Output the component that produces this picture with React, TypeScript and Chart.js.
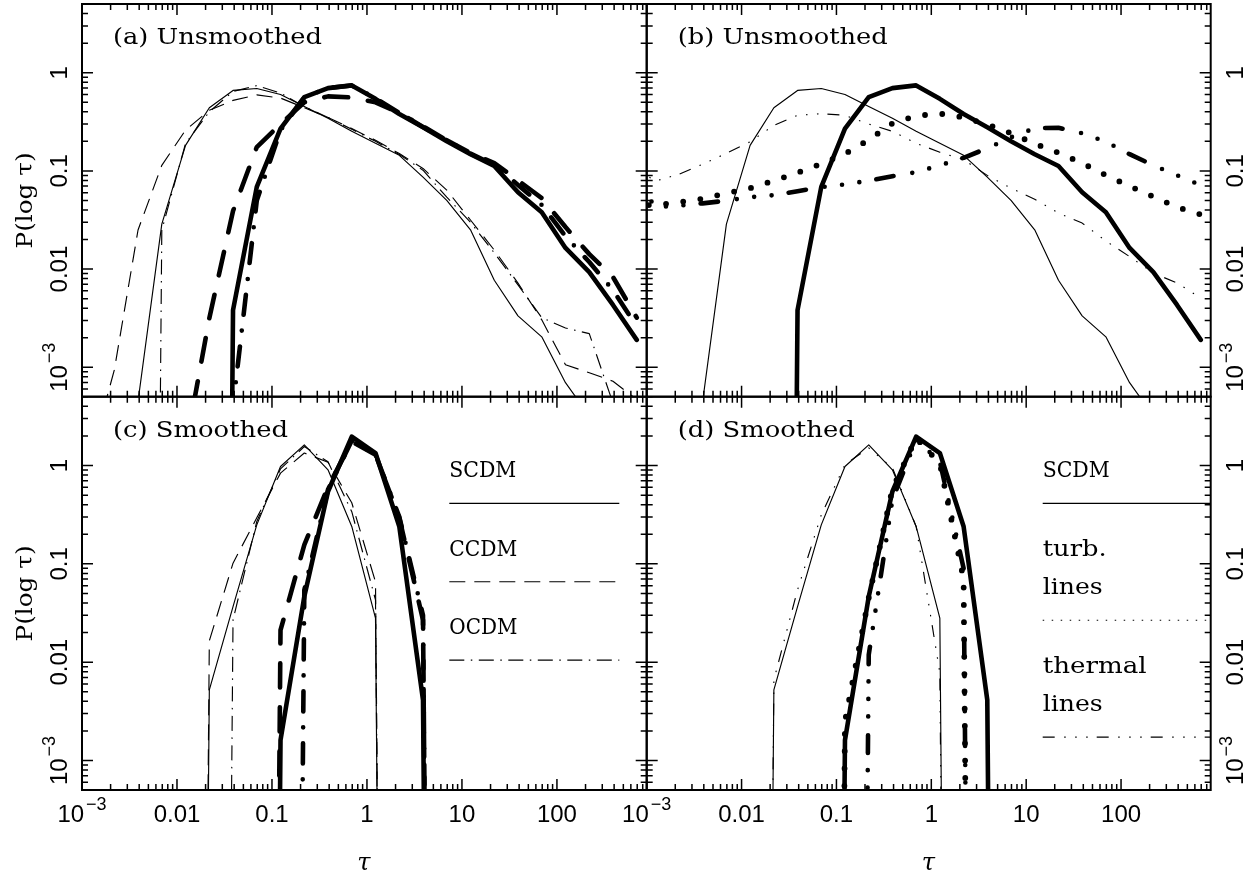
import React, { useEffect, useRef } from 'react';
import { Chart, registerables } from 'chart.js';

Chart.register(...registerables);

// ---------- data ----------
const EMPTY = 1e-30; // empty bin: drawn far below the axis

// bin centres in tau (0.25 dex bins)
const tauBins = [0.000692, 0.00123, 0.00219, 0.00389, 0.00692, 0.0123, 0.0219, 0.0389, 0.0692, 0.123, 0.219, 0.389, 0.692, 1.23, 2.19, 3.89, 6.92, 12.3, 21.9, 38.9, 69.2, 123, 219, 389, 692];

// (a)/(b) unsmoothed
const unsmoothedScdmThin = [null, null, null, 4.5e-4, 0.0287, 0.182, 0.44, 0.66, 0.69, 0.6, 0.454, 0.343, 0.253, 0.191, 0.144, 0.0863, 0.05, 0.0251, 0.0077, 0.00334, 0.00204, 6.96e-4, 3.2e-4, null, null];
const unsmoothedCcdmThin = [null, 1.2e-4, 9.4e-4, 0.025, 0.114, 0.26, 0.414, 0.523, 0.595, 0.552, 0.44, 0.35, 0.27, 0.205, 0.15, 0.106, 0.0637, 0.0316, 0.0156, 0.0072, 0.00304, 0.00106, 8.8e-4, 7.2e-4, 4.7e-4];
const unsmoothedOcdmThin = [null, null, null, EMPTY, 0.025, 0.19, 0.4, 0.645, 0.74, 0.62, 0.45, 0.35, 0.265, 0.2, 0.147, 0.1016, 0.054, 0.03, 0.0146, 0.0069, 0.0032, 0.00251, 0.0022, 4.3e-4, null];
const unsmoothedScdmThick = [null, null, null, null, null, null, EMPTY, 0.00382, 0.0688, 0.27, 0.565, 0.697, 0.743, 0.542, 0.38, 0.278, 0.2, 0.148, 0.112, 0.0607, 0.038, 0.0164, 0.0093, 0.00431, 0.0019];
const unsmoothedCcdmThick = [null, null, null, null, null, 1.5e-4, 0.00316, 0.039, 0.175, 0.3, 0.5, 0.574, 0.56, 0.5, 0.39, 0.28, 0.205, 0.152, 0.12, 0.08, 0.0528, 0.0268, 0.0142, 0.0083, 0.0032];
const unsmoothedOcdmThick = [null, null, null, null, null, null, EMPTY, 4e-4, 0.05, 0.26, 0.56, 0.7, 0.74, 0.55, 0.39, 0.285, 0.205, 0.15, 0.115, 0.072, 0.045, 0.0216, 0.0118, 0.0061, 0.0026];
const unsmoothedThermalThin = [0.114, 0.0786, 0.0925, 0.117, 0.151, 0.198, 0.291, 0.368, 0.383, 0.368, 0.3, 0.253, 0.191, 0.155, 0.13, 0.09, 0.0667, 0.0515, 0.0372, 0.0294, 0.0193, 0.0134, 0.0091, 0.00722, 0.00508];
const unsmoothedTurbThick = [0.045, 0.0448, 0.048, 0.052, 0.0593, 0.0667, 0.0795, 0.0959, 0.118, 0.149, 0.207, 0.305, 0.364, 0.383, 0.351, 0.298, 0.242, 0.189, 0.153, 0.12, 0.0904, 0.07, 0.0547, 0.0428, 0.0359];
const unsmoothedThermalThick = [0.1, 0.0428, 0.0443, 0.0467, 0.0498, 0.054, 0.0566, 0.0622, 0.0683, 0.0728, 0.0795, 0.0883, 0.097, 0.114, 0.136, 0.17, 0.22, 0.272, 0.275, 0.242, 0.198, 0.148, 0.114, 0.0904, 0.0716];

// (c)/(d) smoothed
const smoothedScdmThin = [null, null, null, null, null, EMPTY, 0.00523, 0.0368, 0.249, 0.977, 1.62, 0.904, 0.24, 0.028, EMPTY, null, null, null, null, null, null, null, null, null, null];
const smoothedCcdmThin = [null, null, null, null, null, EMPTY, 0.0165, 0.1016, 0.294, 0.837, 1.34, 1.08, 0.418, 0.0656, EMPTY, null, null, null, null, null, null, null, null, null, null];
const smoothedOcdmThin = [null, null, null, null, null, null, EMPTY, 0.0269, 0.27, 0.925, 1.56, 1.09, 0.339, 0.043, EMPTY, null, null, null, null, null, null, null, null, null, null];
const smoothedScdmThick = [null, null, null, null, null, null, null, null, EMPTY, 0.00161, 0.0465, 0.544, 1.97, 1.34, 0.24, 0.00414, EMPTY, null, null, null, null, null, null, null, null];
const smoothedCcdmThick = [null, null, null, null, null, null, null, null, EMPTY, 0.0212, 0.156, 0.607, 1.75, 1.29, 0.294, 0.0268, EMPTY, null, null, null, null, null, null, null, null];
const smoothedOcdmThick = [null, null, null, null, null, null, null, null, null, EMPTY, 0.0542, 0.57, 1.8, 1.29, 0.3, 0.03, EMPTY, null, null, null, null, null, null, null, null];
const smoothedThermalThin = [null, null, null, null, null, EMPTY, 0.0066, 0.0544, 0.315, 1.02, 1.51, 0.948, 0.24, 0.0078, EMPTY, null, null, null, null, null, null, null, null, null, null];
const smoothedTurbThick = [null, null, null, null, null, null, null, null, EMPTY, 0.0025, 0.045, 0.58, 1.9, 1.05, 0.07, EMPTY, null, null, null, null, null, null, null, null, null];
const smoothedThermalThick = [null, null, null, null, null, null, null, null, null, EMPTY, 0.0119, 0.448, 1.83, 1.1, 0.09, EMPTY, null, null, null, null, null, null, null, null, null];

// axes
const X_MIN = 0.001;
const X_MAX = 881;
const Y_MIN = 5.012e-4;
const Y_MAX = 5.012;
const xTickValues = [0.001, 0.01, 0.1, 1, 10, 100];
const xTickLabels = ['10^-3', '0.01', '0.1', '1', '10', '100'];
const yTickValues = [0.001, 0.01, 0.1, 1];
const yTickLabels = ['10^-3', '0.01', '0.1', '1'];

// ---------- styles ----------
const W = 1254;
const H = 878;
const THIN = 1.15;
const THICK = 4.6;
const lineStyles: Record<string, { width: number; dash: number[]; cap: CanvasLineCap }> = {
  solidThin: { width: THIN, dash: [], cap: 'butt' },
  dashedThin: { width: THIN, dash: [16, 9], cap: 'butt' },
  dashDotThin: { width: THIN, dash: [15, 6.5, 1.5, 6.5], cap: 'butt' },
  dash3DotThin: { width: THIN, dash: [12, 9.5, 1.5, 9.5, 1.5, 9.5, 1.5, 9], cap: 'butt' },
  dottedThin: { width: THIN, dash: [1.5, 7.5], cap: 'butt' },
  solidThick: { width: THICK, dash: [], cap: 'round' },
  dashedThick: { width: THICK, dash: [24, 20], cap: 'round' },
  dashDotThick: { width: THICK, dash: [20, 16, 0, 16], cap: 'round' },
  dottedThick: { width: 5.8, dash: [0, 17.3], cap: 'round' },
  dash3DotThick: { width: THICK, dash: [17.5, 19, 0, 17.5, 0, 17.5, 0, 17.25], cap: 'round' },
};

const NUM_FONT = '24px "Liberation Sans", Arial, sans-serif';
const SUP_FONT = '18px "Liberation Sans", Arial, sans-serif';
const SERIF_FONT = '23px "DejaVu Serif", serif';
const TAU_FONT = 'italic 24px "DejaVu Serif", serif';

type Series = [Array<number | null>, string];
type LegendEntry = { lines: string[]; widths: number[]; style: string };
type PanelCfg = {
  key: string;
  rect: { left: number; top: number; right: number; bottom: number };
  title: string;
  titleWidth: number;
  yLabels: 'left' | 'right';
  xLabels: boolean;
  series: Series[];
  legend: null | { x0: number; x1: number; entries: LegendEntry[] };
};

const panels: PanelCfg[] = [
  {
    key: 'a',
    rect: { left: 82, top: 4, right: 646.7, bottom: 396.7 },
    title: '(a) Unsmoothed',
    titleWidth: 209,
    yLabels: 'left',
    xLabels: false,
    series: [
      [unsmoothedScdmThin, 'solidThin'],
      [unsmoothedCcdmThin, 'dashedThin'],
      [unsmoothedOcdmThin, 'dashDotThin'],
      [unsmoothedScdmThick, 'solidThick'],
      [unsmoothedCcdmThick, 'dashedThick'],
      [unsmoothedOcdmThick, 'dashDotThick'],
    ],
    legend: null,
  },
  {
    key: 'b',
    rect: { left: 646.7, top: 4, right: 1210.7, bottom: 396.7 },
    title: '(b) Unsmoothed',
    titleWidth: 210,
    yLabels: 'right',
    xLabels: false,
    series: [
      [unsmoothedScdmThin, 'solidThin'],
      [unsmoothedThermalThin, 'dash3DotThin'],
      [unsmoothedScdmThick, 'solidThick'],
      [unsmoothedTurbThick, 'dottedThick'],
      [unsmoothedThermalThick, 'dash3DotThick'],
    ],
    legend: null,
  },
  {
    key: 'c',
    rect: { left: 82, top: 396.7, right: 646.7, bottom: 790 },
    title: '(c) Smoothed',
    titleWidth: 175,
    yLabels: 'left',
    xLabels: true,
    series: [
      [smoothedScdmThin, 'solidThin'],
      [smoothedCcdmThin, 'dashedThin'],
      [smoothedOcdmThin, 'dashDotThin'],
      [smoothedScdmThick, 'solidThick'],
      [smoothedCcdmThick, 'dashedThick'],
      [smoothedOcdmThick, 'dashDotThick'],
    ],
    legend: {
      x0: 367.3,
      x1: 537.3,
      entries: [
        { lines: ['SCDM'], widths: [67], style: 'solidThin' },
        { lines: ['CCDM'], widths: [68], style: 'dashedThin' },
        { lines: ['OCDM'], widths: [68], style: 'dashDotThin' },
      ],
    },
  },
  {
    key: 'd',
    rect: { left: 646.7, top: 396.7, right: 1210.7, bottom: 790 },
    title: '(d) Smoothed',
    titleWidth: 177,
    yLabels: 'right',
    xLabels: true,
    series: [
      [smoothedScdmThin, 'solidThin'],
      [smoothedThermalThin, 'dash3DotThin'],
      [smoothedScdmThick, 'solidThick'],
      [smoothedTurbThick, 'dottedThick'],
      [smoothedThermalThick, 'dash3DotThick'],
    ],
    legend: {
      x0: 396,
      x1: 564,
      entries: [
        { lines: ['SCDM'], widths: [67], style: 'solidThin' },
        { lines: ['turb.', 'lines'], widths: [64, 60], style: 'dottedThin' },
        { lines: ['thermal', 'lines'], widths: [104, 60], style: 'dash3DotThin' },
      ],
    },
  },
];

// ---------- drawing helpers ----------
function fitText(ctx: CanvasRenderingContext2D, text: string, x: number, y: number, width: number, font: string) {
  ctx.font = font;
  const w = ctx.measureText(text).width || 1;
  ctx.save();
  ctx.translate(x, y);
  ctx.scale(width / w, 1);
  ctx.textAlign = 'left';
  ctx.textBaseline = 'alphabetic';
  ctx.fillText(text, 0, 0);
  ctx.restore();
}

function drawNumber(ctx: CanvasRenderingContext2D, label: string, cx: number, baseY: number) {
  ctx.textBaseline = 'alphabetic';
  const m = label.match(/^(.*)\^(.*)$/);
  if (!m) {
    ctx.font = NUM_FONT;
    ctx.textAlign = 'center';
    ctx.fillText(label, cx, baseY);
    return;
  }
  const base = m[1];
  const exp = m[2].replace('-', '\u2212');
  ctx.font = NUM_FONT;
  const wb = ctx.measureText(base).width;
  ctx.font = SUP_FONT;
  const we = ctx.measureText(exp).width;
  const x0 = cx - (wb + 2 + we) / 2;
  ctx.textAlign = 'left';
  ctx.font = NUM_FONT;
  ctx.fillText(base, x0, baseY);
  ctx.font = SUP_FONT;
  ctx.fillText(exp, x0 + wb + 2, baseY - 11.5);
}

function strokeStyled(ctx: CanvasRenderingContext2D, styleKey: string, x0: number, x1: number, y: number) {
  const s = lineStyles[styleKey];
  ctx.save();
  ctx.lineWidth = s.width;
  ctx.lineCap = s.cap;
  ctx.setLineDash(s.dash);
  ctx.beginPath();
  ctx.moveTo(x0, y);
  ctx.lineTo(x1, y);
  ctx.stroke();
  ctx.restore();
}

function makeDecorPlugin(cfg: PanelCfg) {
  return {
    id: 'decor_' + cfg.key,
    afterDatasetsDraw(chart: any) {
      const { ctx, chartArea: a } = chart;
      const xs = chart.scales.x;
      const ys = chart.scales.y;
      ctx.save();
      ctx.fillStyle = '#000';
      ctx.strokeStyle = '#000';

      // inward ticks on all four sides
      ctx.lineWidth = 1.5;
      ctx.setLineDash([]);
      ctx.beginPath();
      for (let e = -4; e <= 3; e++) {
        for (let k = 1; k <= 9; k++) {
          const v = k * Math.pow(10, e);
          const len = k === 1 ? 11 : 6;
          if (v >= X_MIN * 0.999 && v <= X_MAX) {
            const px = xs.getPixelForValue(v);
            ctx.moveTo(px, a.bottom);
            ctx.lineTo(px, a.bottom - len);
            ctx.moveTo(px, a.top);
            ctx.lineTo(px, a.top + len);
          }
          if (v >= Y_MIN && v <= Y_MAX) {
            const py = ys.getPixelForValue(v);
            ctx.moveTo(a.left, py);
            ctx.lineTo(a.left + len, py);
            ctx.moveTo(a.right, py);
            ctx.lineTo(a.right - len, py);
          }
        }
      }
      ctx.stroke();

      // frame
      ctx.lineWidth = 2;
      ctx.strokeRect(a.left, a.top, a.right - a.left, a.bottom - a.top);

      // y tick labels (rotated)
      yTickValues.forEach((v, i) => {
        const py = ys.getPixelForValue(v);
        const bx = cfg.yLabels === 'left' ? a.left - 15.3 : a.right + 32.6;
        ctx.save();
        ctx.translate(bx, py);
        ctx.rotate(-Math.PI / 2);
        drawNumber(ctx, yTickLabels[i], 0, 0);
        ctx.restore();
      });

      // y axis title
      if (cfg.yLabels === 'left') {
        ctx.save();
        ctx.translate(a.left - 50.5, ys.getPixelForValue(0.05));
        ctx.rotate(-Math.PI / 2);
        fitText(ctx, 'P(log \u03c4)', -48, 0, 96, SERIF_FONT);
        ctx.restore();
      }

      // x tick labels and title
      if (cfg.xLabels) {
        xTickValues.forEach((v, i) => {
          drawNumber(ctx, xTickLabels[i], xs.getPixelForValue(v), a.bottom + 31.7);
        });
        ctx.font = TAU_FONT;
        ctx.textAlign = 'center';
        ctx.textBaseline = 'alphabetic';
        ctx.fillText('\u03c4', xs.getPixelForValue(1) - 3, a.bottom + 80);
      }

      // panel title
      fitText(ctx, cfg.title, a.left + 31, a.top + 40.4, cfg.titleWidth, SERIF_FONT);

      // legend
      if (cfg.legend) {
        const lg = cfg.legend;
        let base = a.top + 80.6;
        lg.entries.forEach((en) => {
          en.lines.forEach((t, j) => {
            fitText(ctx, t, a.left + lg.x0, base + j * 38.5, en.widths[j], SERIF_FONT);
          });
          const ly = base + (en.lines.length - 1) * 38.5 + 26;
          strokeStyled(ctx, en.style, a.left + lg.x0, Math.min(a.left + lg.x1, a.right), ly);
          base = ly + 52.4;
        });
      }
      ctx.restore();
    },
  };
}

function Panel({ cfg }: { cfg: PanelCfg }) {
  const ref = useRef<HTMLCanvasElement>(null);
  useEffect(() => {
    const canvas = ref.current;
    if (!canvas) return;
    const datasets = cfg.series.map(([vals, styleKey], i) => {
      const s = lineStyles[styleKey];
      return {
        label: cfg.key + i,
        data: tauBins.map((t, j) => ({ x: t, y: vals[j] })),
        borderColor: '#000',
        backgroundColor: '#000',
        borderWidth: s.width,
        borderDash: s.dash,
        borderCapStyle: s.cap,
        borderJoinStyle: 'round',
        pointRadius: 0,
        pointHoverRadius: 0,
        tension: 0,
        fill: false,
        spanGaps: false,
        clip: 0,
      };
    });
    const chart = new Chart(canvas, {
      type: 'line',
      data: { datasets: datasets as any },
      options: {
        animation: false,
        responsive: false,
        events: [],
        layout: {
          autoPadding: false,
          padding: {
            left: cfg.rect.left,
            top: cfg.rect.top,
            right: W - cfg.rect.right,
            bottom: H - cfg.rect.bottom,
          },
        },
        plugins: { legend: { display: false }, tooltip: { enabled: false }, title: { display: false } },
        scales: {
          x: { type: 'logarithmic', display: false, min: X_MIN, max: X_MAX, bounds: 'data' },
          y: { type: 'logarithmic', display: false, min: Y_MIN, max: Y_MAX, bounds: 'data' },
        },
      } as any,
      plugins: [makeDecorPlugin(cfg)],
    });
    return () => chart.destroy();
  }, [cfg]);
  return (
    <canvas
      ref={ref}
      width={W}
      height={H}
      style={{ position: 'absolute', left: 0, top: 0, width: W, height: H }}
    />
  );
}

export default function App() {
  return (
    <div style={{ position: 'absolute', left: 0, top: 0, width: W, height: H, background: '#fff', overflow: 'hidden' }}>
      {panels.map((p) => (
        <Panel key={p.key} cfg={p} />
      ))}
    </div>
  );
}
